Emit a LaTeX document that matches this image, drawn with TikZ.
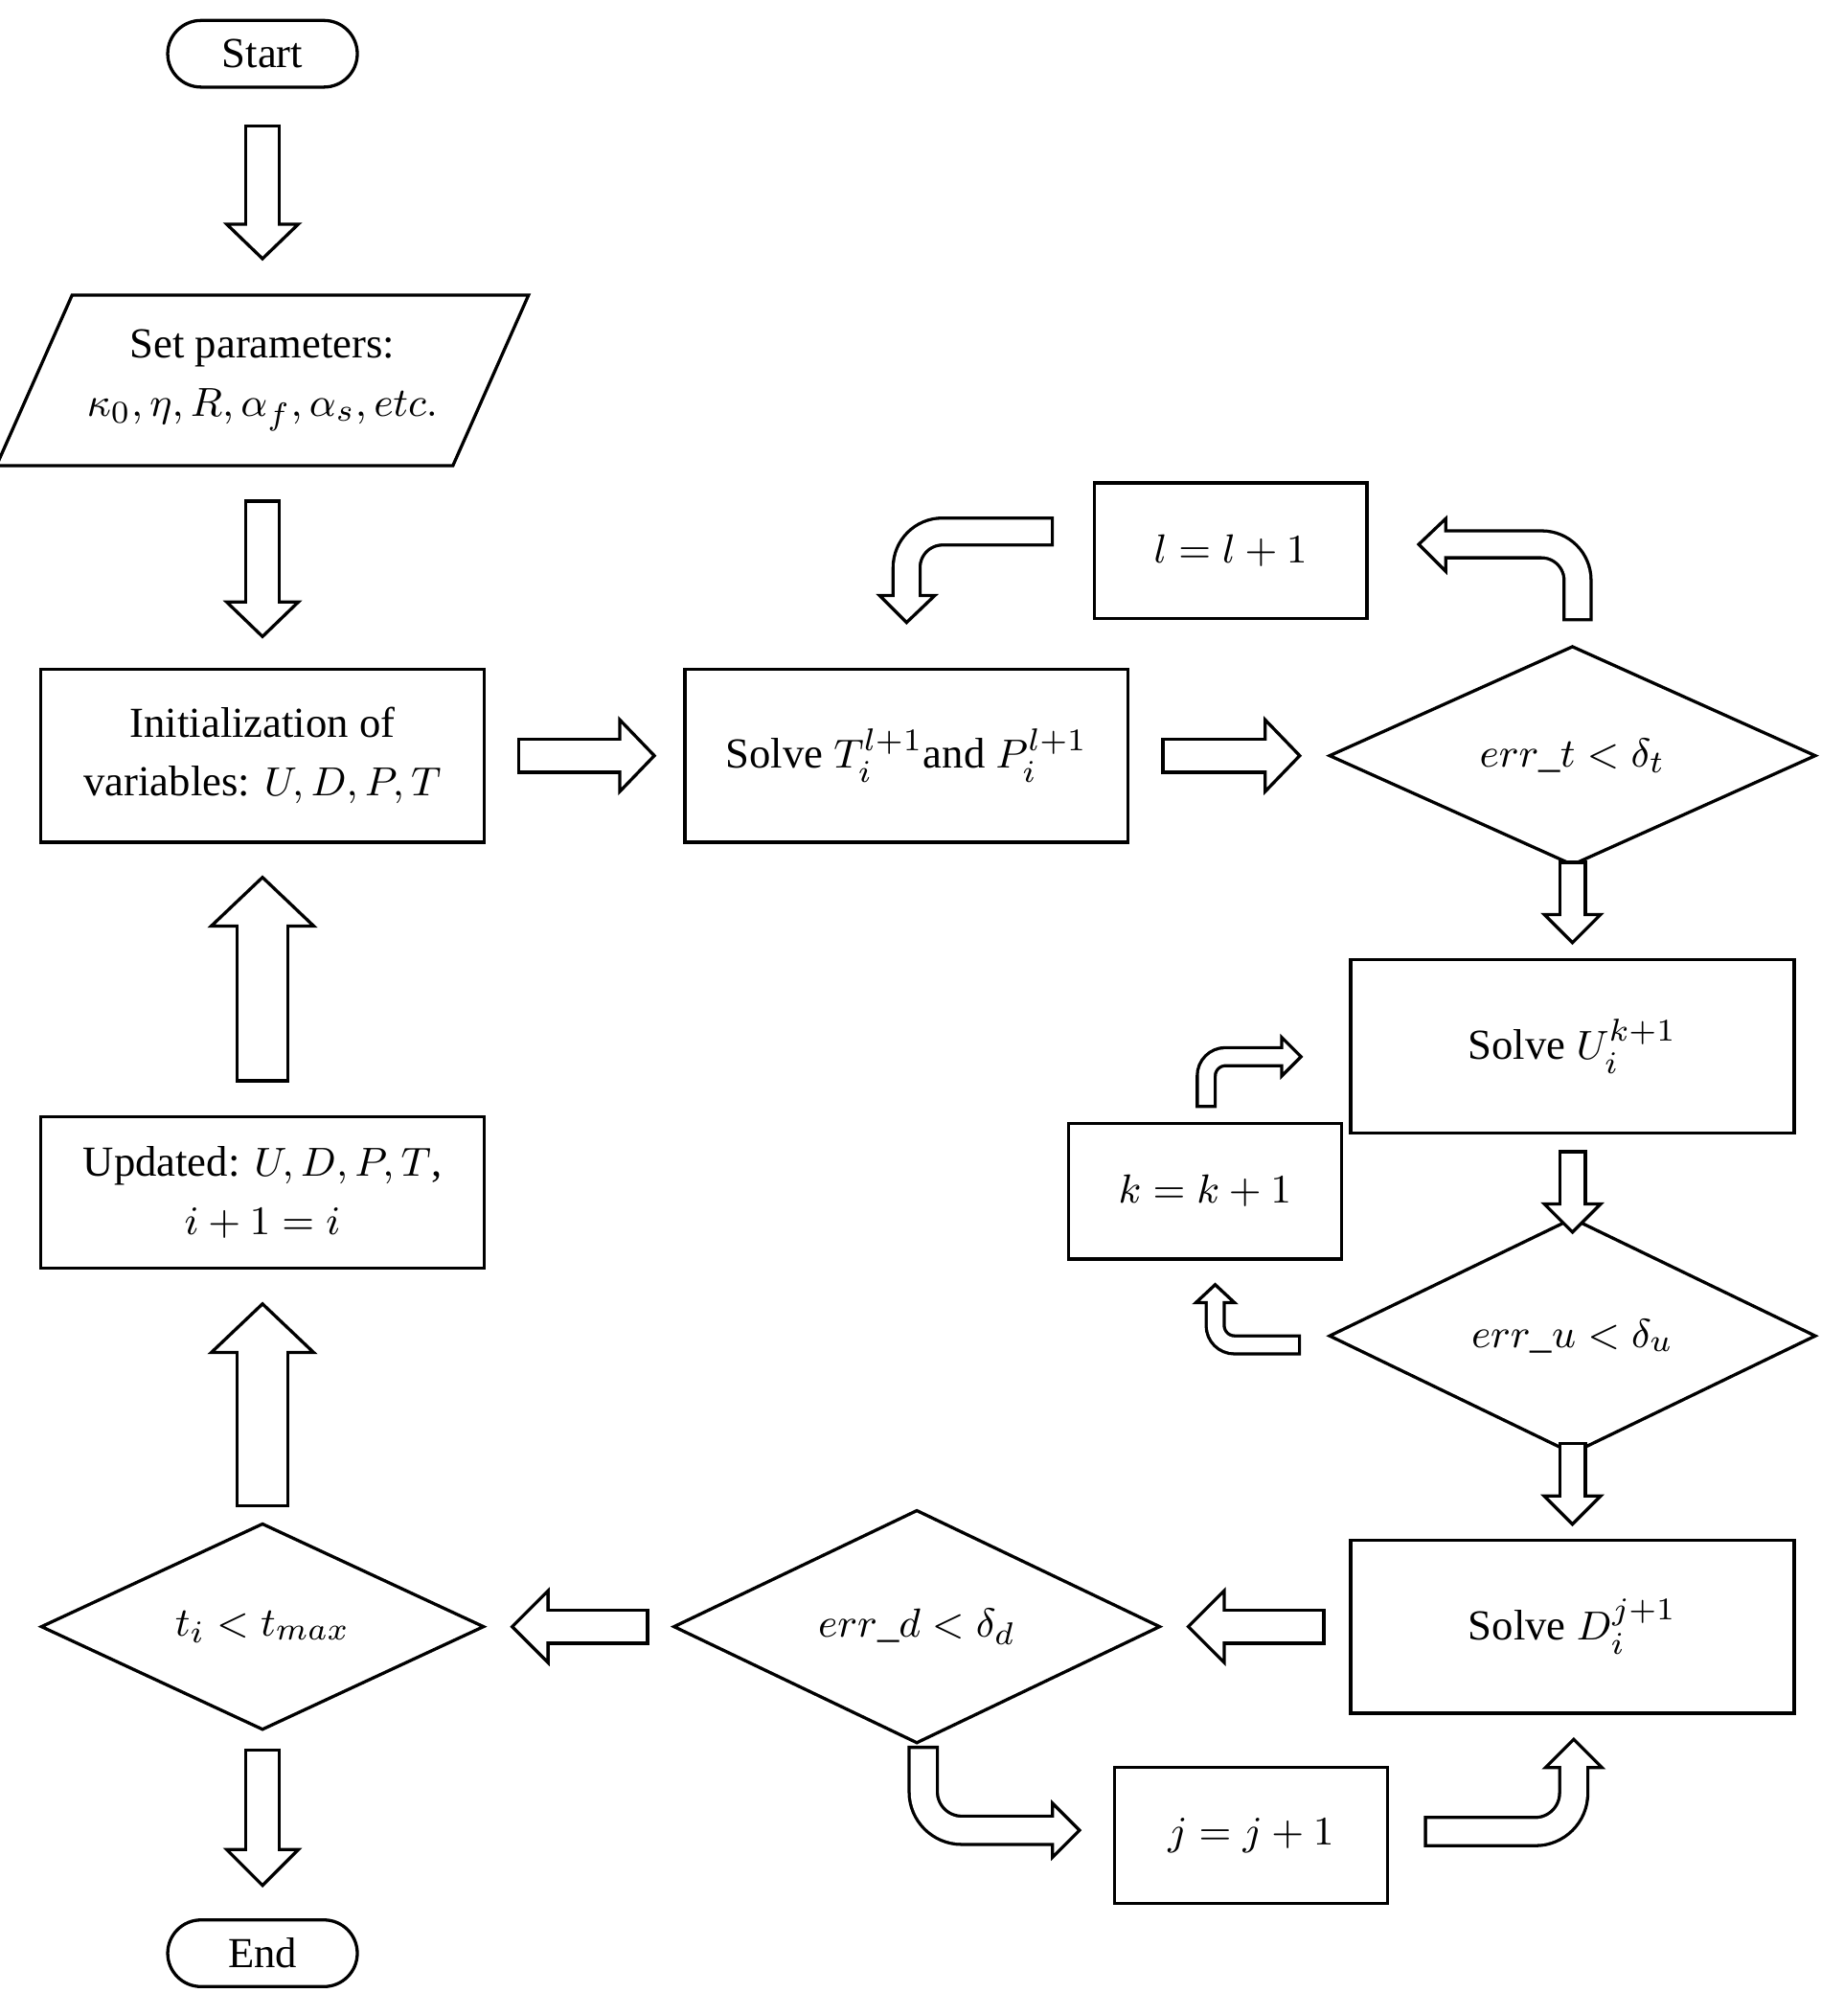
\documentclass[tikz,border=0pt]{standalone}
\usepackage{fontspec}
\setmainfont{Liberation Serif}
\usetikzlibrary{shapes.geometric}

% hollow block arrow: shaft width, corner radius, shaft path, head triangle
\newcommand\harrow[4]{%
  \draw[line width=#1*0.01cm+0.7pt, rounded corners=#2] #3;
  \filldraw[fill=white, line width=0.7pt] #4 -- cycle;
  \draw[white, line width=#1*0.01cm-0.7pt, rounded corners=#2, shorten <=0.7pt, shorten >=-0.5pt] #3;}

\begin{document}
\begin{tikzpicture}[x=0.01cm, y=-0.01cm, line width=0.7pt,
    every node/.style={font=\fontsize{9.5}{13}\selectfont, align=center},
    term/.style={draw, rounded corners=0.26cm, minimum width=1.48cm, minimum height=0.52cm},
    box/.style={draw, minimum width=3.46cm, minimum height=1.35cm},
    small/.style={draw, minimum width=2.13cm, minimum height=1.06cm},
    cond/.style={draw, diamond, minimum width=3.8cm, minimum height=1.34cm, inner sep=0pt},
    io/.style={draw, trapezium, trapezium left angle=60, trapezium right angle=120,
      trapezium stretches, minimum width=3.84cm, minimum height=1.33cm}
  ]
  \useasboundingbox (0,0) rectangle (1440,1574);

  \node (start) at (205,42) [term] {Start};
  \node (param) at (205,297) [io] {Set parameters:\\ $\kappa_0,\eta,R,\alpha_f,\alpha_s,etc.$};
  \node (init) at (205,590) [box] {Initialization of\\variables: $U,D,P,T$};
  \node (solveT) at (708,590) [box] {Solve $T_i^{l+1}$and $P_i^{l+1}$};
  \node (errt) at (1228,590) [cond] {$err\_t<\delta_t$};
  \node (incl) at (961,430) [small] {$l=l+1$};
  \node (solveU) at (1228,817) [box] {Solve $U_i^{k+1}$};
  \node (inck) at (941,930) [small] {$k=k+1$};
  \node (erru) at (1228,1043) [cond] {$err\_u<\delta_u$};
  \node (solveD) at (1228,1270) [box] {Solve $D_i^{j+1}$};
  \node (errd) at (716,1270) [cond] {$err\_d<\delta_d$};
  \node (tmax) at (205,1270) [cond, minimum width=3.46cm] {$t_i<t_{max}$};
  \node (incj) at (977,1433) [small] {$j=j+1$};
  \node (update) at (205,931) [box, minimum height=1.18cm] {Updated: $U,D,P,T$,\\ $i+1=i$};
  \node (end) at (205,1525) [term] {End};

  % straight arrows
  \harrow{26}{0}{(205,97) -- (205,175)}{(177,175) -- (205,202) -- (233,175)}
  \harrow{26}{0}{(205,390) -- (205,470)}{(177,470) -- (205,497) -- (233,470)}
  \harrow{26}{0}{(404,590) -- (484,590)}{(484,562) -- (511,590) -- (484,618)}
  \harrow{26}{0}{(907,590) -- (988,590)}{(988,562) -- (1015,590) -- (988,618)}
  \harrow{20}{0}{(1228,672) -- (1228,714)}{(1206,714) -- (1228,736) -- (1250,714)}
  \harrow{20}{0}{(1228,898) -- (1228,940)}{(1206,940) -- (1228,962) -- (1250,940)}
  \harrow{20}{0}{(1228,1126) -- (1228,1168)}{(1206,1168) -- (1228,1190) -- (1250,1168)}
  \harrow{26}{0}{(1035,1270) -- (956,1270)}{(956,1242) -- (928,1270) -- (956,1298)}
  \harrow{26}{0}{(507,1270) -- (428,1270)}{(428,1242) -- (400,1270) -- (428,1298)}
  \harrow{26}{0}{(205,1365) -- (205,1444)}{(177,1444) -- (205,1472) -- (233,1444)}
  \harrow{40}{0}{(205,1177) -- (205,1056)}{(165,1056) -- (205,1018) -- (245,1056)}
  \harrow{40}{0}{(205,845) -- (205,723)}{(165,723) -- (205,685) -- (245,723)}

  % bent arrows
  \harrow{21}{0.28cm}{(1232,485) -- (1232,425) -- (1129,425)}{(1129,405) -- (1108,425) -- (1129,446)}
  \harrow{21}{0.28cm}{(823,415) -- (708,415) -- (708,465)}{(687,465) -- (708,486) -- (730,465)}
  \harrow{14}{0.15cm}{(942,865) -- (942,825) -- (1001,825)}{(1001,810) -- (1016,825) -- (1001,840)}
  \harrow{14}{0.15cm}{(1016,1050) -- (949,1050) -- (949,1017)}{(934,1017) -- (949,1003) -- (964,1017)}
  \harrow{22}{0.3cm}{(721,1363) -- (721,1429) -- (822,1429)}{(822,1408) -- (843,1429) -- (822,1450)}
  \harrow{22}{0.3cm}{(1112,1430) -- (1229,1430) -- (1229,1380)}{(1207,1380) -- (1229,1358) -- (1251,1380)}
\end{tikzpicture}
\end{document}
